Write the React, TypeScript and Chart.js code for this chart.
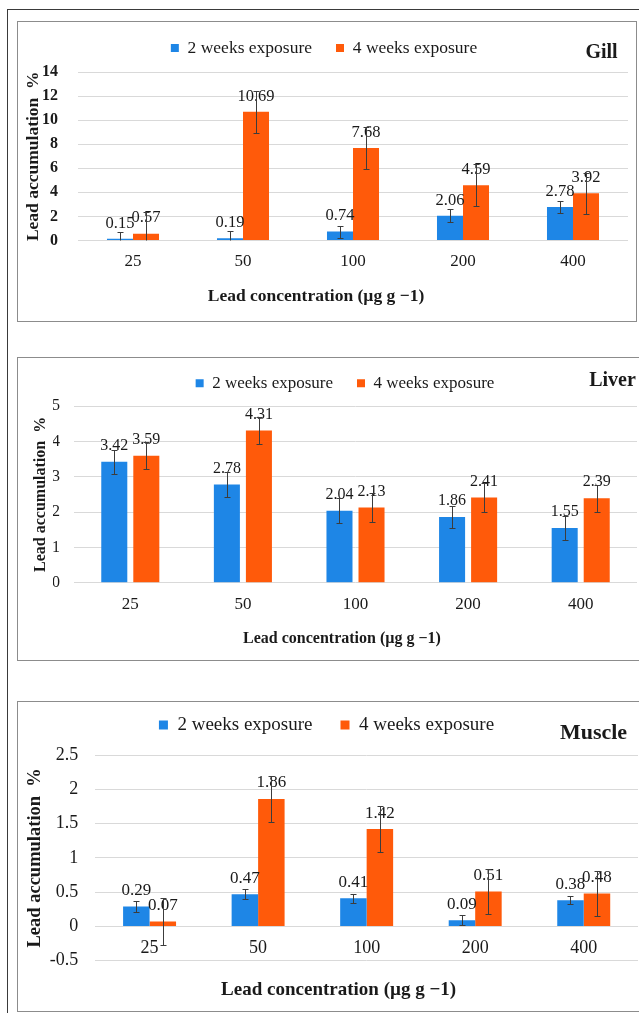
import React, { useEffect, useRef } from "react";
import { Chart, registerables } from "chart.js";

Chart.register(...registerables);

const SERIF = "'Liberation Serif', 'Times New Roman', Times, serif";
const BLUE = "#1e86e6";
const ORANGE = "#ff5a0a";
const TEXT = "#1a1a1a";
const GRID = "#d9d9d9";
const ERR = "#3c3c3c";

// ---------- data ----------
const categories = ["25", "50", "100", "200", "400"];
const seriesLabels = ["2 weeks exposure", "4 weeks exposure"];
const yAxisTitle = "Lead accumulation  %";
const xAxisTitle = "Lead concentration (\u00b5g g \u22121)";

const gillTicks = [0, 2, 4, 6, 8, 10, 12, 14];
const gill2w = [0.15, 0.19, 0.74, 2.06, 2.78];
const gill4w = [0.57, 10.69, 7.68, 4.59, 3.92];
const gill2wErr = [0.55, 0.59, 0.5, 0.52, 0.53];
const gill4wErr = [1.77, 1.74, 1.73, 1.76, 1.69];

const liverTicks = [0, 1, 2, 3, 4, 5];
const liver2w = [3.42, 2.78, 2.04, 1.86, 1.55];
const liver4w = [3.59, 4.31, 2.13, 2.41, 2.39];
const liver2wErr = [0.34, 0.34, 0.35, 0.32, 0.34];
const liver4wErr = [0.38, 0.38, 0.41, 0.4, 0.38];

const muscleTicks = [-0.5, 0, 0.5, 1, 1.5, 2, 2.5];
const muscle2w = [0.29, 0.47, 0.41, 0.09, 0.38];
const muscle4w = [0.07, 1.86, 1.42, 0.51, 0.48];
const muscle2wErr = [0.08, 0.07, 0.07, 0.07, 0.06];
const muscle4wErr = [0.34, 0.33, 0.33, 0.33, 0.33];

// ---------- plugins ----------
function makeBarExtras(errors: number[][], labelFont: string, labelOffset: number, cap: number) {
  return {
    id: "barExtras",
    afterDatasetsDraw(chart: any) {
      const { ctx, chartArea } = chart;
      const yScale = chart.scales.y;
      // value labels
      ctx.save();
      ctx.font = labelFont;
      ctx.fillStyle = TEXT;
      ctx.textAlign = "center";
      ctx.textBaseline = "middle";
      chart.data.datasets.forEach((ds: any, di: number) => {
        const meta = chart.getDatasetMeta(di);
        meta.data.forEach((el: any, i: number) => {
          const v = ds.data[i] as number;
          ctx.fillText(v.toFixed(2), el.x, el.y - labelOffset);
        });
      });
      ctx.restore();
      // error bars
      ctx.save();
      ctx.beginPath();
      ctx.rect(chartArea.left, chartArea.top, chartArea.right - chartArea.left, chartArea.bottom - chartArea.top);
      ctx.clip();
      ctx.strokeStyle = ERR;
      ctx.lineWidth = 1;
      chart.data.datasets.forEach((ds: any, di: number) => {
        const meta = chart.getDatasetMeta(di);
        meta.data.forEach((el: any, i: number) => {
          const v = ds.data[i] as number;
          const e = errors[di][i];
          const x = Math.round(el.x) + 0.5;
          const yTop = Math.round(yScale.getPixelForValue(v + e)) + 0.5;
          const yBot = Math.round(yScale.getPixelForValue(v - e)) + 0.5;
          ctx.beginPath();
          ctx.moveTo(x, yTop);
          ctx.lineTo(x, yBot);
          ctx.moveTo(x - cap, yTop);
          ctx.lineTo(x + cap, yTop);
          ctx.moveTo(x - cap, yBot);
          ctx.lineTo(x + cap, yBot);
          ctx.stroke();
        });
      });
      ctx.restore();
    },
  };
}

type TextItem = { text: string; x: number; y: number; font: string };
function makeTexts(items: TextItem[]) {
  return {
    id: "panelTexts",
    afterDraw(chart: any) {
      const ctx = chart.ctx;
      items.forEach((it) => {
        ctx.save();
        ctx.font = it.font;
        ctx.fillStyle = TEXT;
        ctx.textAlign = "center";
        ctx.textBaseline = "middle";
        ctx.fillText(it.text, it.x, it.y);
        ctx.restore();
      });
    },
  };
}

// ---------- panel spec ----------
type Spec = {
  canvasTop: number;
  canvasWidth: number;
  canvasHeight: number;
  values: number[][];
  errors: number[][];
  ticks: number[];
  pad: { top: number; right: number; bottom: number; left: number };
  spacer: number;
  yWidth: number;
  yTickFont: any;
  yTickPad: number;
  yTitleSize: number;
  yTitlePad: number;
  xTickSize: number;
  xTickPad: number;
  xAtZero: boolean;
  legendSize: number;
  legendBox: number;
  legendPad: number;
  catPct: number;
  barPct: number;
  labelFont: string;
  labelOffset: number;
  texts: TextItem[];
};

function buildConfig(s: Spec): any {
  const colors = [BLUE, ORANGE];
  return {
    type: "bar",
    data: {
      labels: categories,
      datasets: s.values.map((vals, i) => ({
        label: seriesLabels[i],
        data: vals,
        backgroundColor: colors[i],
        borderWidth: 0,
        barPercentage: s.barPct,
        categoryPercentage: s.catPct,
        xAxisID: "x",
        yAxisID: "y",
      })),
    },
    options: {
      responsive: false,
      animation: false,
      devicePixelRatio: 1,
      events: [],
      layout: { padding: { top: s.pad.top, right: s.pad.right, bottom: s.pad.bottom, left: s.pad.left } },
      plugins: {
        legend: {
          position: "top",
          labels: {
            font: { family: SERIF, size: s.legendSize },
            color: TEXT,
            boxWidth: s.legendBox,
            boxHeight: s.legendBox,
            padding: s.legendPad,
          },
        },
        tooltip: { enabled: false },
        title: { display: false },
      },
      scales: {
        x: {
          type: "category",
          position: s.xAtZero ? { y: 0 } : "bottom",
          grid: { display: false, drawTicks: false },
          border: { display: false },
          ticks: { font: { family: SERIF, size: s.xTickSize }, color: TEXT, padding: s.xTickPad },
        },
        xSpacer: {
          type: "category",
          position: "top",
          labels: categories,
          grid: { display: false, drawTicks: false },
          border: { display: false },
          ticks: { display: false },
          afterFit: (sc: any) => {
            sc.height = s.spacer;
          },
        },
        y: {
          type: "linear",
          min: s.ticks[0],
          max: s.ticks[s.ticks.length - 1],
          afterBuildTicks: (sc: any) => {
            sc.ticks = s.ticks.map((v) => ({ value: v }));
          },
          afterFit: (sc: any) => {
            sc.width = s.yWidth;
          },
          grid: { color: GRID, lineWidth: 1, drawTicks: false },
          border: { display: false },
          ticks: {
            font: s.yTickFont,
            color: TEXT,
            padding: s.yTickPad,
            callback: (v: any) => String(v),
          },
          title: {
            display: true,
            text: yAxisTitle,
            color: TEXT,
            font: { family: SERIF, size: s.yTitleSize, weight: "bold" },
            padding: { top: s.yTitlePad, bottom: 0 },
          },
        },
      },
    },
    plugins: [makeBarExtras(s.errors, s.labelFont, s.labelOffset, 3), makeTexts(s.texts)],
  };
}

const gillSpec: Spec = {
  canvasTop: 15,
  canvasWidth: 632,
  canvasHeight: 307,
  values: [gill2w, gill4w],
  errors: [gill2wErr, gill4wErr],
  ticks: gillTicks,
  pad: { top: 0.25, right: 12, bottom: 40.1, left: 12 },
  spacer: 5.25,
  yWidth: 58,
  yTickFont: { family: SERIF, size: 16, weight: "bold" },
  yTickPad: 20,
  yTitleSize: 17.5,
  yTitlePad: 2.5,
  xTickSize: 17,
  xTickPad: 10.5,
  xAtZero: false,
  legendSize: 17.5,
  legendBox: 8,
  legendPad: 24,
  catPct: 0.473,
  barPct: 1,
  labelFont: `16.5px ${SERIF}`,
  labelOffset: 15.5,
  texts: [
    { text: "Gill", x: 593.5, y: 38, font: `bold 20px ${SERIF}` },
    { text: xAxisTitle, x: 308, y: 281, font: `bold 17.5px ${SERIF}` },
  ],
};

const liverSpec: Spec = {
  canvasTop: 350,
  canvasWidth: 674,
  canvasHeight: 310,
  values: [liver2w, liver4w],
  errors: [liver2wErr, liver4wErr],
  ticks: liverTicks,
  pad: { top: 0.8, right: 45, bottom: 33.8, left: 45 },
  spacer: 4.2,
  yWidth: 21,
  yTickFont: { family: SERIF, size: 16 },
  yTickPad: 14,
  yTitleSize: 16,
  yTitlePad: -21.6,
  xTickSize: 17,
  xTickPad: 11.5,
  xAtZero: false,
  legendSize: 17,
  legendBox: 8,
  legendPad: 24,
  catPct: 0.569,
  barPct: 0.8125,
  labelFont: `16px ${SERIF}`,
  labelOffset: 16,
  texts: [
    { text: "Liver", x: 604.5, y: 31, font: `bold 20px ${SERIF}` },
    { text: xAxisTitle, x: 334, y: 289.3, font: `bold 16px ${SERIF}` },
  ],
};

const muscleSpec: Spec = {
  canvasTop: 687,
  canvasWidth: 637,
  canvasHeight: 324,
  values: [muscle2w, muscle4w],
  errors: [muscle2wErr, muscle4wErr],
  ticks: muscleTicks,
  pad: { top: 0.5, right: 7, bottom: 50.3, left: 7 },
  spacer: 10.5,
  yWidth: 80.3,
  yTickFont: { family: SERIF, size: 18 },
  yTickPad: 17,
  yTitleSize: 18.5,
  yTitlePad: 8.9,
  xTickSize: 18,
  xTickPad: 11,
  xAtZero: true,
  legendSize: 19,
  legendBox: 9,
  legendPad: 28,
  catPct: 0.488,
  barPct: 1,
  labelFont: `17px ${SERIF}`,
  labelOffset: 16,
  texts: [
    { text: "Muscle", x: 585.5, y: 46, font: `bold 22px ${SERIF}` },
    { text: xAxisTitle, x: 330.6, y: 303, font: `bold 19px ${SERIF}` },
  ],
};

function Panel({ spec }: { spec: Spec }) {
  const ref = useRef<HTMLCanvasElement>(null);
  useEffect(() => {
    if (!ref.current) return;
    const chart = new Chart(ref.current, buildConfig(spec));
    return () => chart.destroy();
  }, [spec]);
  return (
    <canvas
      ref={ref}
      width={spec.canvasWidth}
      height={spec.canvasHeight}
      style={{
        position: "absolute",
        left: 8,
        top: spec.canvasTop,
        width: spec.canvasWidth,
        height: spec.canvasHeight,
      }}
    />
  );
}

const boxStyle = (left: number, top: number, width: number, height: number): React.CSSProperties => ({
  position: "absolute",
  left,
  top,
  width,
  height,
  boxSizing: "border-box",
  border: "1px solid #8c8c8c",
});

export default function App() {
  return (
    <div
      style={{
        position: "absolute",
        left: 0,
        top: 0,
        width: 639,
        height: 1013,
        overflow: "hidden",
        background: "#ffffff",
      }}
    >
      <div
        style={{
          position: "absolute",
          left: 7,
          top: 9,
          width: 700,
          height: 1100,
          boxSizing: "border-box",
          borderLeft: "1px solid #3a3a3a",
          borderTop: "1px solid #3a3a3a",
        }}
      />
      <div style={boxStyle(17, 21, 620, 301)} />
      <div style={boxStyle(17, 357, 700, 304)} />
      <div style={boxStyle(17, 701, 700, 311)} />
      <Panel spec={gillSpec} />
      <Panel spec={liverSpec} />
      <Panel spec={muscleSpec} />
    </div>
  );
}
